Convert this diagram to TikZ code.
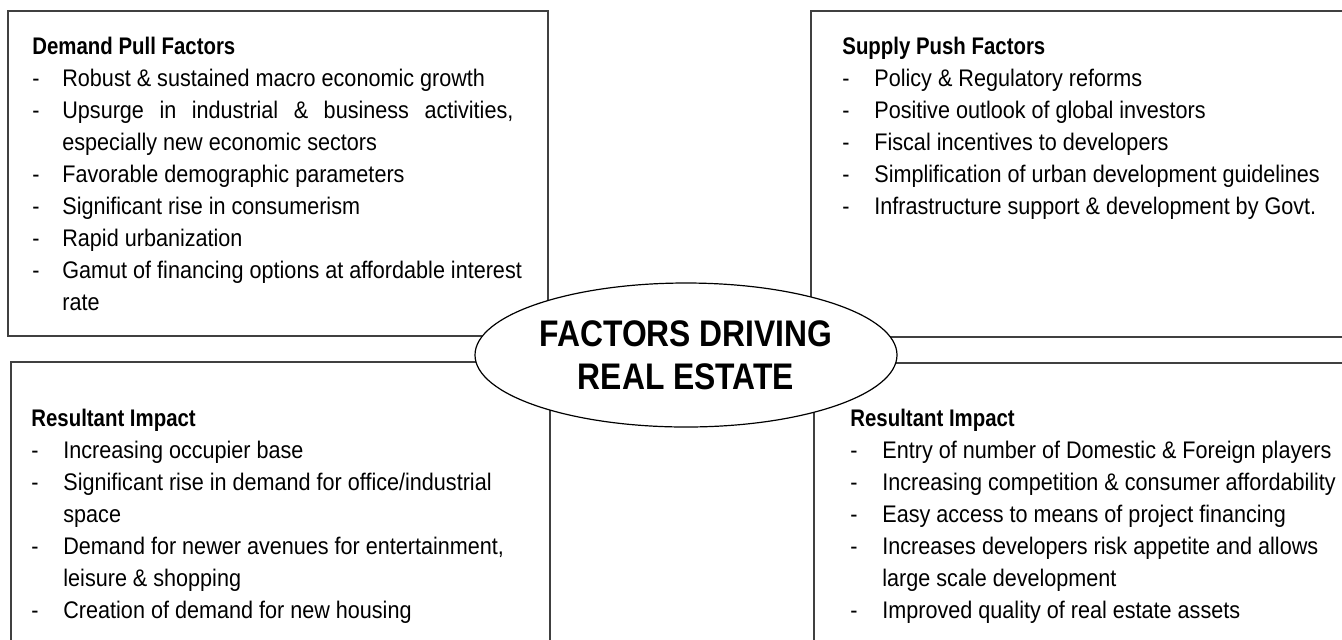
\documentclass[tikz,border=0pt]{standalone}
\usepackage{fontspec}
\usepackage{array}
\usetikzlibrary{shapes.geometric}
\setmainfont{Liberation Sans}[FakeStretch=0.9,BoldFeatures={FakeStretch=0.85}]
\newfontfamily\ovalfont{Liberation Sans}[FakeStretch=0.86]

\begin{document}
\begin{tikzpicture}[x=0.5pt,y=-0.5pt,
  framebox/.style={draw=black!75,line width=0.75pt},
  listtext/.style={inner sep=0pt,anchor=base west,font=\fontsize{12}{16}\selectfont},
  oval/.style={ellipse,draw,fill=white,line width=0.6pt,minimum width=211pt,
    minimum height=72pt,inner sep=0pt,align=center,
    font=\ovalfont\bfseries\fontsize{18.5}{21.5}\selectfont}]
\useasboundingbox (0,0) rectangle (1342,639);
\clip (0,0) rectangle (1342,639);

% four boxes
\draw[framebox] (8,11) rectangle (548,336);
\draw[framebox] (811,11) rectangle (1352,337);
\draw[framebox] (11,362) rectangle (550,652);
\draw[framebox] (814,363) rectangle (1352,652);

% demand side
\node[listtext] (pull) at (32,54) {\begin{tabular}[t]{@{}p{15pt}@{}l@{}}
\multicolumn{2}{@{}l@{}}{\bfseries Demand Pull Factors}\\
- & Robust \& sustained macro economic growth\\
- & \makebox[225.5pt][s]{Upsurge in industrial \& business activities,}\\
  & especially new economic sectors\\
- & Favorable demographic parameters\\
- & Significant rise in consumerism\\
- & Rapid urbanization\\
- & Gamut of financing options at affordable interest\\
  & rate
\end{tabular}};

\node[listtext] (pullimpact) at (31,426) {\begin{tabular}[t]{@{}p{16pt}@{}l@{}}
\multicolumn{2}{@{}l@{}}{\bfseries Resultant Impact}\\
- & Increasing occupier base\\
- & Significant rise in demand for office/industrial\\
  & space\\
- & Demand for newer avenues for entertainment,\\
  & leisure \& shopping\\
- & Creation of demand for new housing
\end{tabular}};

% supply side
\node[listtext] (push) at (842,54) {\begin{tabular}[t]{@{}p{16pt}@{}l@{}}
\multicolumn{2}{@{}l@{}}{\bfseries Supply Push Factors}\\
- & Policy \& Regulatory reforms\\
- & Positive outlook of global investors\\
- & Fiscal incentives to developers\\
- & Simplification of urban development guidelines\\
- & Infrastructure support \& development by Govt.
\end{tabular}};

\node[listtext] (pushimpact) at (850,426) {\begin{tabular}[t]{@{}p{16pt}@{}l@{}}
\multicolumn{2}{@{}l@{}}{\bfseries Resultant Impact}\\
- & Entry of number of Domestic \& Foreign players\\
- & Increasing competition \& consumer affordability\\
- & Easy access to means of project financing\\
- & Increases developers risk appetite and allows\\
  & large scale development\\
- & Improved quality of real estate assets
\end{tabular}};

% centre
\node[oval] (hub) at (686,355) {FACTORS DRIVING\\REAL ESTATE};
\end{tikzpicture}
\end{document}
